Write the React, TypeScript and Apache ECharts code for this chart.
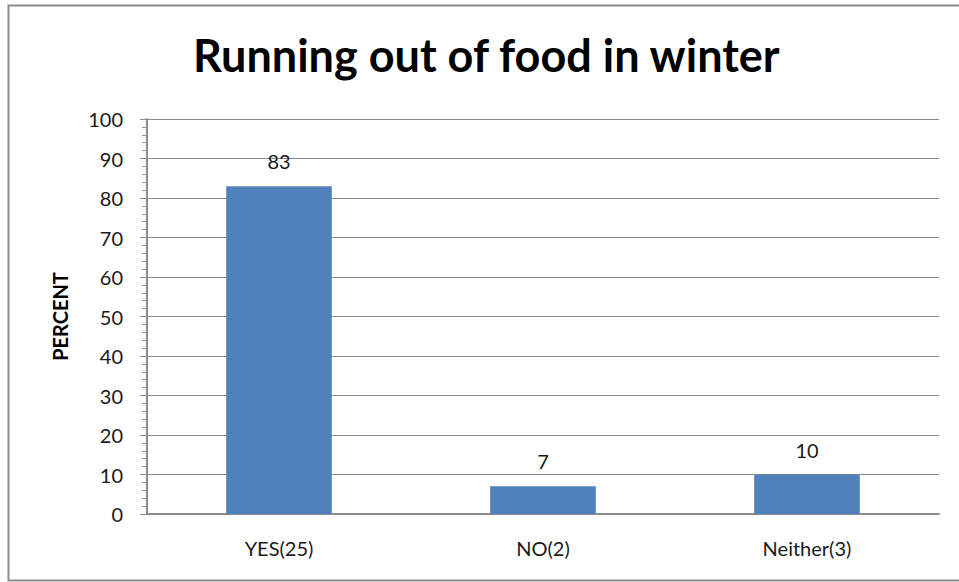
import React, { useEffect, useRef } from "react";
import * as echarts from "echarts";

const categories = ["YES(25)", "NO(2)", "Neither(3)"];
const percentValues = [83, 7, 10];
const titleText = "Running out of food in winter";
const yAxisName = "PERCENT";

export default function App() {
  const ref = useRef<HTMLDivElement>(null);
  useEffect(() => {
    if (!ref.current) return;
    const chart = echarts.init(ref.current, undefined, { renderer: "svg" });
    const font = "Lato, 'Open Sans', sans-serif";
    chart.setOption({
      animation: false,
      backgroundColor: "#ffffff",
      title: {
        text: titleText,
        left: 188,
        top: 27,
        textStyle: { fontFamily: font, fontWeight: "bold", fontSize: 45, color: "#000" },
      },
      graphic: [
        {
          type: "rect",
          shape: { x: 8.5, y: 5.5, width: 960, height: 575 },
          style: { fill: "none", stroke: "#8c8c8c", lineWidth: 2 },
          silent: true,
        },
      ],
      grid: { left: 147, right: 20, top: 119, bottom: 68, containLabel: false },
      xAxis: {
        type: "category",
        data: categories,
        axisLine: { show: true, lineStyle: { color: "#8c8c8c", width: 2 } },
        axisTick: { show: false },
        axisLabel: { fontFamily: font, fontSize: 20, color: "#1a1a1a", margin: 24 },
      },
      yAxis: {
        type: "value",
        min: 0,
        max: 100,
        interval: 10,
        name: yAxisName,
        nameLocation: "middle",
        nameGap: 77,
        nameRotate: 90,
        nameTextStyle: { fontFamily: font, fontWeight: "bold", fontSize: 20, color: "#000" },
        axisLine: { show: true, lineStyle: { color: "#8c8c8c", width: 2 } },
        axisTick: { show: true, inside: false, length: 7, lineStyle: { color: "#8c8c8c" } },
        minorTick: { show: true, splitNumber: 5, length: 5, lineStyle: { color: "#8c8c8c" } },
        splitLine: { show: true, lineStyle: { color: "#8c8c8c", width: 1 } },
        axisLabel: { fontFamily: font, fontSize: 20, color: "#1a1a1a", margin: 24 },
      },
      series: [
        {
          type: "bar",
          data: percentValues,
          barWidth: "40%",
          itemStyle: { color: "#4f81bd" },
          label: {
            show: true,
            position: "top",
            distance: 15,
            fontFamily: font,
            fontSize: 20,
            color: "#1a1a1a",
          },
        },
      ],
    });
    return () => chart.dispose();
  }, []);
  return (
    <div
      ref={ref}
      style={{ position: "fixed", left: 0, top: 0, width: 959, height: 582 }}
    />
  );
}
